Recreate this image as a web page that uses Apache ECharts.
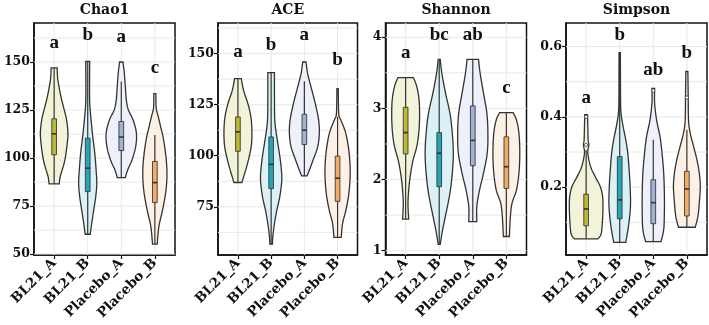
<!DOCTYPE html>
<html>
<head>
<meta charset="utf-8">
<script src="https://cdn.jsdelivr.net/npm/echarts@6/dist/echarts.min.js"></script>
<style>
  html, body { margin: 0; padding: 0; background: #fff; }
  #main { width: 709px; height: 325px; }
</style>
</head>
<body>
<div id="main"></div>
<script>
// groups and panels
var groups = ['BL21_A', 'BL21_B', 'Placebo_A', 'Placebo_B'];
var metrics = ['Chao1', 'ACE', 'Shannon', 'Simpson'];

// violin outlines: [value, half width (in category units)] from bottom to top
var chao1Violin = [
    [[86.5,0.15],[90.3,0.18],[93.8,0.24],[99,0.32],[106,0.38],[113,0.41],[119.9,0.37],[125.1,0.30],[132.1,0.20],[140.8,0.11],[146.9,0.09]],
    [[60.3,0.075],[66,0.12],[73,0.18],[80,0.24],[86.9,0.27],[93.8,0.25],[102.5,0.21],[111.2,0.15],[119.9,0.10],[128.6,0.06],[140,0.055],[150.3,0.06]],
    [[89.8,0.12],[93.8,0.19],[99,0.32],[106,0.43],[113,0.45],[119.9,0.35],[125.1,0.21],[130.3,0.15],[137.3,0.12],[144.3,0.09],[150,0.05]],
    [[55.2,0.07],[64.3,0.12],[73,0.23],[81.7,0.32],[90.3,0.36],[99,0.34],[109.5,0.26],[116.4,0.17],[121.7,0.10],[126,0.04],[133.5,0.03]]
];
var aceViolin = [
    [[86.9,0.12],[89.6,0.17],[94.5,0.26],[101,0.36],[106,0.41],[112.5,0.42],[119,0.39],[125.5,0.30],[132,0.17],[137.8,0.10]],
    [[56.7,0.04],[60.3,0.05],[66.8,0.10],[73.3,0.17],[79.9,0.26],[88,0.32],[94.5,0.30],[101,0.25],[109.2,0.17],[117.4,0.11],[130,0.10],[140.7,0.10]],
    [[90.1,0.08],[92.9,0.15],[97.8,0.26],[104.3,0.40],[110.8,0.45],[117.4,0.43],[125.5,0.33],[133.7,0.20],[140.2,0.10],[145.9,0.05]],
    [[60,0.11],[66.8,0.15],[73.3,0.25],[81.5,0.34],[91.3,0.38],[101,0.35],[110.8,0.25],[117.4,0.10],[119.8,0.04],[126,0.025],[132.9,0.02]]
];
var shannonViolin = [
    [[1.445,0.09],[1.67,0.07],[1.9,0.10],[2.09,0.15],[2.27,0.22],[2.46,0.33],[2.65,0.39],[2.88,0.415],[3.12,0.40],[3.31,0.33],[3.433,0.23]],
    [[1.09,0.03],[1.29,0.10],[1.52,0.20],[1.81,0.32],[2.09,0.39],[2.37,0.42],[2.65,0.39],[2.93,0.32],[3.21,0.19],[3.49,0.08],[3.69,0.03]],
    [[1.41,0.12],[1.62,0.12],[1.85,0.20],[2.09,0.32],[2.37,0.43],[2.65,0.45],[2.93,0.42],[3.21,0.32],[3.49,0.22],[3.69,0.17]],
    [[1.2,0.09],[1.48,0.12],[1.67,0.17],[1.85,0.30],[2.09,0.375],[2.37,0.40],[2.65,0.375],[2.84,0.30],[2.94,0.20]]
];
var simpsonViolin = [
    [[0.053,0.35],[0.065,0.44],[0.088,0.475],[0.136,0.50],[0.173,0.49],[0.202,0.42],[0.23,0.27],[0.259,0.13],[0.297,0.05],[0.32,0.08],[0.335,0.06],[0.373,0.05],[0.406,0.04]],
    [[0.043,0.18],[0.088,0.26],[0.145,0.32],[0.202,0.31],[0.25,0.28],[0.297,0.24],[0.335,0.18],[0.373,0.10],[0.41,0.04],[0.45,0.025],[0.583,0.02]],
    [[0.045,0.23],[0.079,0.31],[0.126,0.33],[0.183,0.33],[0.24,0.31],[0.297,0.26],[0.344,0.20],[0.39,0.10],[0.439,0.04],[0.481,0.04]],
    [[0.086,0.25],[0.117,0.33],[0.155,0.37],[0.202,0.40],[0.24,0.37],[0.278,0.30],[0.316,0.20],[0.354,0.10],[0.39,0.05],[0.458,0.04],[0.529,0.03]]
];

// box stats: [lower whisker, q1, median, q3, upper whisker]
var chao1Box = [[86.5,101.7,112.6,120.4,146.9],[60.3,82.5,94.7,110.3,150.3],[89.8,103.9,110.9,119,139.9],[55.2,76.8,87.2,98.2,112]];
var aceBox = [[86.9,102.2,111.7,119,137.8],[56.7,83.9,95.8,109.2,140.7],[90.1,105.5,112.5,120.3,136.5],[60,77.7,89,99.8,119]];
var shannonBox = [[1.445,2.36,2.66,3.016,3.433],[1.09,1.90,2.37,2.66,3.69],[1.41,2.195,2.55,3.035,3.69],[1.2,1.876,2.18,2.60,2.94]];
var simpsonBox = [[0.053,0.09,0.138,0.18,0.306],[0.043,0.11,0.164,0.287,0.58],[0.045,0.096,0.156,0.221,0.335],[0.086,0.118,0.195,0.245,0.363]];

// outlier points
var chao1Out = [[], [], [], []];
var aceOut = [[], [], [], []];
var shannonOut = [[], [], [], []];
var simpsonOut = [[0.32, 0.40], [], [0.475], [0.455]];

// significance letters
var chao1Letters = ['a', 'b', 'a', 'c'];
var aceLetters = ['a', 'b', 'a', 'b'];
var shannonLetters = ['a', 'bc', 'ab', 'c'];
var simpsonLetters = ['a', 'b', 'ab', 'b'];
var chao1LetterY = [160, 164, 163, 146.7];
var aceLetterY = [150.8, 154, 159, 146.7];
var shannonLetterY = [3.775, 4.03, 4.03, 3.28];
var simpsonLetterY = [0.453, 0.633, 0.534, 0.581];

// tick labels and grid breaks
var chao1Ticks = [50, 75, 100, 125, 150];
var aceTicks = [75, 100, 125, 150];
var shannonTicks = [1, 2, 3, 4];
var simpsonTicks = [0.2, 0.4, 0.6];
var chao1Minor = [62.5, 87.5, 112.5, 137.5, 162.5];
var aceMinor = [62.5, 87.5, 112.5, 137.5, 162.5];
var shannonMinor = [1.5, 2.5, 3.5];
var simpsonMinor = [0.1, 0.3, 0.5];

var violinFill = ['#f3f3da', '#dcf1f5', '#eef1f9', '#fdf0e4'];
var boxFill = ['#bdb832', '#22a7b8', '#9fb3d6', '#f3ab68'];
var FONT = '"Liberation Serif", "DejaVu Serif", serif';
var AXFONT = '"DejaVu Serif", "Liberation Serif", serif';

var panels = [
    { violin: chao1Violin, box: chao1Box, out: chao1Out, letters: chao1Letters, letterY: chao1LetterY, ticks: chao1Ticks, minor: chao1Minor, min: 49.5, max: 170.3, left: 34, right: 175 },
    { violin: aceViolin, box: aceBox, out: aceOut, letters: aceLetters, letterY: aceLetterY, ticks: aceTicks, minor: aceMinor, min: 51.4, max: 165, left: 218, right: 357.5 },
    { violin: shannonViolin, box: shannonBox, out: shannonOut, letters: shannonLetters, letterY: shannonLetterY, ticks: shannonTicks, minor: shannonMinor, min: 0.94, max: 4.2, left: 385.5, right: 526.5 },
    { violin: simpsonViolin, box: simpsonBox, out: simpsonOut, letters: simpsonLetters, letterY: simpsonLetterY, ticks: simpsonTicks, minor: simpsonMinor, min: 0.007, max: 0.667, left: 566, right: 707 }
];

// catmull-rom through the outline points, just for drawing
function smoothSide(pts) {
    var res = [];
    for (var i = 0; i < pts.length - 1; i++) {
        var p0 = pts[Math.max(i - 1, 0)], p1 = pts[i], p2 = pts[i + 1], p3 = pts[Math.min(i + 2, pts.length - 1)];
        for (var s = 0; s < 8; s++) {
            var t = s / 8, t2 = t * t, t3 = t2 * t;
            res.push([
                0.5 * (2 * p1[0] + (-p0[0] + p2[0]) * t + (2 * p0[0] - 5 * p1[0] + 4 * p2[0] - p3[0]) * t2 + (-p0[0] + 3 * p1[0] - 3 * p2[0] + p3[0]) * t3),
                0.5 * (2 * p1[1] + (-p0[1] + p2[1]) * t + (2 * p0[1] - 5 * p1[1] + 4 * p2[1] - p3[1]) * t2 + (-p0[1] + 3 * p1[1] - 3 * p2[1] + p3[1]) * t3)
            ]);
        }
    }
    res.push(pts[pts.length - 1]);
    return res;
}

var grids = [], xAxes = [], yAxes = [], series = [], titles = [];

panels.forEach(function (p, k) {
    grids.push({ left: p.left, width: p.right - p.left, top: 23, height: 232, show: true, borderColor: '#111', borderWidth: 1.5, backgroundColor: '#fff' });
    titles.push({ text: metrics[k], left: (p.left + p.right) / 2, top: 3, textAlign: 'center', padding: 0,
        textStyle: { fontFamily: AXFONT, fontWeight: 'bold', fontSize: 14, color: '#111' } });
    xAxes.push({
        gridIndex: k, type: 'value', min: 0.4, max: 4.6,
        splitLine: { show: false },
        axisLine: { show: true, lineStyle: { color: '#111', width: 1.5 } },
        axisTick: { show: true, length: 4, customValues: [1, 2, 3, 4], lineStyle: { color: '#111', width: 1.2 } },
        axisLabel: { customValues: [1, 2, 3, 4], rotate: 45, margin: 6, fontFamily: AXFONT, fontWeight: 'bold', fontSize: 13.5, color: '#111',
            formatter: function (v) { return groups[Math.round(v) - 1]; } }
    });
    yAxes.push({
        gridIndex: k, type: 'value', min: p.min, max: p.max,
        splitLine: { show: false },
        axisLine: { show: true, lineStyle: { color: '#111', width: 1.5 } },
        axisTick: { show: true, length: 4, customValues: p.ticks, lineStyle: { color: '#111', width: 1.2 } },
        axisLabel: { customValues: p.ticks, margin: 4, fontFamily: AXFONT, fontWeight: 'bold', fontSize: 12.5, color: '#111' }
    });

    // grid lines
    var lines = p.ticks.map(function (v) { return [0, v]; })
        .concat(p.minor.map(function (v) { return [0, v]; }))
        .concat([1, 2, 3, 4].map(function (x) { return [1, x]; }));
    series.push({
        type: 'custom', xAxisIndex: k, yAxisIndex: k, z: 1, silent: true,
        data: lines.map(function (l, i) { return [i]; }),
        renderItem: function (params, api) {
            var l = lines[params.dataIndex];
            var a, b;
            if (l[0] === 0) { a = api.coord([0.4, l[1]]); b = api.coord([4.6, l[1]]); }
            else { a = api.coord([l[1], p.min]); b = api.coord([l[1], p.max]); }
            return { type: 'line', shape: { x1: a[0], y1: a[1], x2: b[0], y2: b[1] },
                style: { stroke: '#e8e8e8', lineWidth: 1 } };
        }
    });

    // violins + boxes + letters
    series.push({
        type: 'custom', xAxisIndex: k, yAxisIndex: k, z: 2, silent: true,
        data: groups.map(function (g, i) { return [i + 1, p.box[i][2]]; }),
        renderItem: function (params, api) {
            var i = params.dataIndex, xc = i + 1;
            var prof = p.violin[i], bx = p.box[i];
            var left = prof.map(function (d) { return api.coord([xc - d[1], d[0]]); });
            var right = prof.map(function (d) { return api.coord([xc + d[1], d[0]]); });
            var pts = smoothSide(left).concat(smoothSide(right).reverse());
            var bw = 0.07;
            var lo = api.coord([xc, bx[0]]), hi = api.coord([xc, bx[4]]);
            var b1 = api.coord([xc - bw, bx[3]]), b2 = api.coord([xc + bw, bx[1]]);
            var m1 = api.coord([xc - bw, bx[2]]), m2 = api.coord([xc + bw, bx[2]]);
            var children = [
                { type: 'polygon', shape: { points: pts }, style: { fill: violinFill[i], stroke: '#333', lineWidth: 1.3 } },
                { type: 'line', shape: { x1: lo[0], y1: lo[1], x2: hi[0], y2: hi[1] }, style: { stroke: '#333', lineWidth: 1.2 } },
                { type: 'rect', shape: { x: b1[0], y: b1[1], width: b2[0] - b1[0], height: b2[1] - b1[1] },
                    style: { fill: boxFill[i], stroke: '#3a3a3a', lineWidth: 0.9 } },
                { type: 'line', shape: { x1: m1[0], y1: m1[1], x2: m2[0], y2: m2[1] }, style: { stroke: '#333', lineWidth: 1.6 } }
            ];
            p.out[i].forEach(function (v) {
                var c = api.coord([xc, v]);
                children.push({ type: 'circle', shape: { cx: c[0], cy: c[1], r: 1.6 }, style: { fill: '#fff', stroke: '#444', lineWidth: 0.8 } });
            });
            var t = api.coord([xc, p.letterY[i]]);
            children.push({ type: 'text', x: t[0], y: t[1], style: { text: p.letters[i], font: 'bold 19px ' + FONT,
                fill: '#111', align: 'center', verticalAlign: 'middle' } });
            return { type: 'group', children: children };
        }
    });
});

var myChart = echarts.init(document.getElementById('main'), null, { renderer: 'canvas' });
myChart.setOption({
    animation: false,
    backgroundColor: '#fff',
    title: titles,
    grid: grids,
    xAxis: xAxes,
    yAxis: yAxes,
    series: series
});
</script>
</body>
</html>
